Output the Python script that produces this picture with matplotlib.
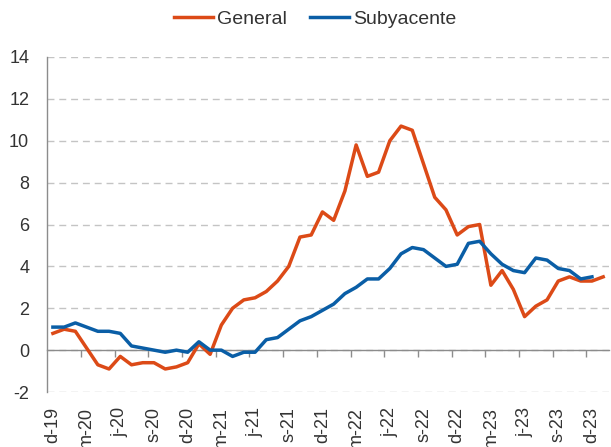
import numpy as np
import matplotlib
matplotlib.use('Agg')
import matplotlib.pyplot as plt

# inflacion general y subyacente, variacion anual (%), d-19 a e-24
general = [0.8, 1.0, 0.9, 0.1, -0.7, -0.9, -0.3, -0.7, -0.6, -0.6, -0.9, -0.8, -0.6,
           0.3, -0.2, 1.2, 2.0, 2.4, 2.5, 2.8, 3.3, 4.0, 5.4, 5.5, 6.6,
           6.2, 7.6, 9.8, 8.3, 8.5, 10.0, 10.7, 10.5, 8.9, 7.3, 6.7, 5.5, 5.9,
           6.0, 3.1, 3.8, 2.9, 1.6, 2.1, 2.4, 3.3, 3.5, 3.3, 3.3, 3.5]
subyacente = [1.1, 1.1, 1.3, 1.1, 0.9, 0.9, 0.8, 0.2, 0.1, 0.0, -0.1, 0.0, -0.1,
              0.4, 0.0, 0.0, -0.3, -0.1, -0.1, 0.5, 0.6, 1.0, 1.4, 1.6, 1.9,
              2.2, 2.7, 3.0, 3.4, 3.4, 3.9, 4.6, 4.9, 4.8, 4.4, 4.0, 4.1, 5.1,
              5.2, 4.6, 4.1, 3.8, 3.7, 4.4, 4.3, 3.9, 3.8, 3.4, 3.5]
tick_labels = ['d-19', 'm-20', 'j-20', 's-20', 'd-20', 'm-21', 'j-21', 's-21', 'd-21',
               'm-22', 'j-22', 's-22', 'd-22', 'm-23', 'j-23', 's-23', 'd-23']

plt.rcParams['font.family'] = ['Liberation Sans', 'DejaVu Sans']
plt.rcParams['axes.unicode_minus'] = False

col_gen = '#DC4A17'
col_sub = '#0A5EA6'
txt_col = '#333333'
axis_col = '#8C8C8C'

fig = plt.figure(figsize=(6.11, 4.47), dpi=100)
ax = fig.add_axes([0.0774, 0.123, 0.919, 0.7495])

x_gen = np.arange(len(general))
x_sub = np.arange(len(subyacente))
ax.plot(x_gen, general, color=col_gen, lw=2.5, label='General', zorder=3)
ax.plot(x_sub, subyacente, color=col_sub, lw=2.5, label='Subyacente', zorder=4)

ax.set_xlim(-0.5, len(general) - 0.5)
ax.set_ylim(-2, 14)
ax.set_yticks(np.arange(-2, 15, 2))
ax.yaxis.grid(True, color='#C4C4C4', lw=1.0, ls=(0, (5, 3.5)))
ax.set_axisbelow(True)
ax.tick_params(axis='y', length=0, pad=13, labelsize=13, colors=txt_col)

for s in ['top', 'right']:
    ax.spines[s].set_visible(False)
ax.spines['left'].set_color(axis_col)
ax.spines['left'].set_linewidth(1.0)

# eje de categorias en el cero, marcas entre categorias cada 3 meses
ax.spines['bottom'].set_position(('data', 0))
ax.spines['bottom'].set_color(axis_col)
ax.spines['bottom'].set_linewidth(1.0)
ax.spines['bottom'].set_zorder(2)
ax.set_xticks(np.arange(2.5, len(general) - 1, 3))
ax.tick_params(axis='x', direction='out', length=5, width=1.0, color=axis_col,
               labelbottom=False)

# etiquetas abajo del grafico
sec = ax.secondary_xaxis(0.0)
sec.set_xticks(np.arange(0, len(general), 3))
sec.set_xticklabels(tick_labels, rotation=90)
sec.tick_params(length=0, pad=11, labelsize=13, colors=txt_col)
sec.spines['bottom'].set_visible(False)

fig.legend(loc='center', bbox_to_anchor=(0.5155, 0.957), ncol=2, frameon=False,
           fontsize=14, handlelength=2.0, handletextpad=0.2, columnspacing=1.2,
           labelcolor=txt_col)

plt.savefig('out.png', dpi=100)
